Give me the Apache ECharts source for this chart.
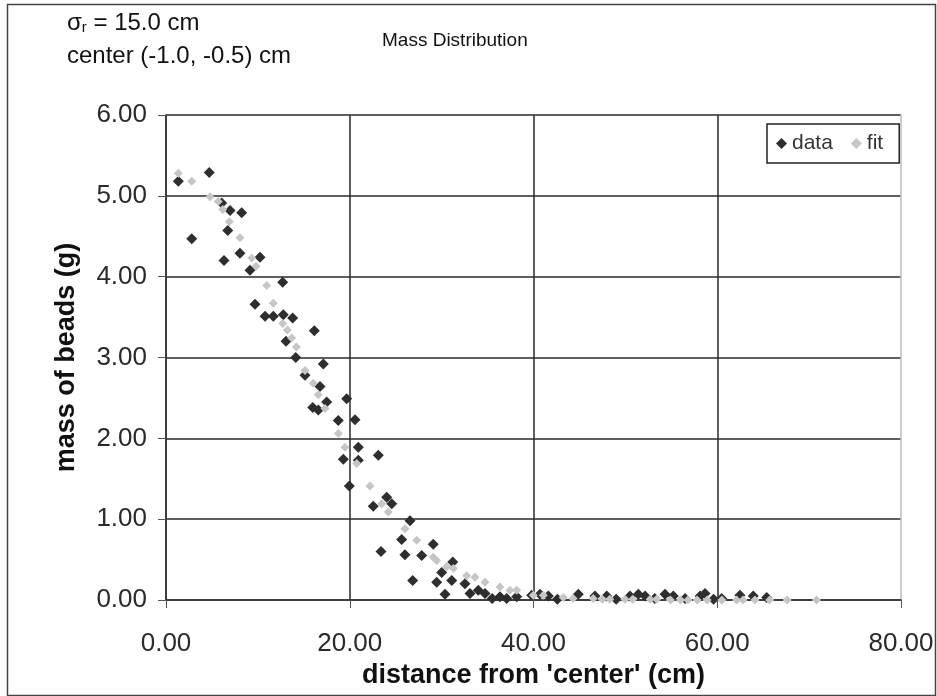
<!DOCTYPE html>
<html>
<head>
<meta charset="utf-8">
<script src="https://cdn.jsdelivr.net/npm/echarts@6/dist/echarts.min.js"></script>
<style>
html,body{margin:0;padding:0;background:#fff;}
#chart{width:937px;height:696px;}
</style>
</head>
<body>
<div id="chart"></div>
<script>
// ---- data ----
const seriesNames = ['data', 'fit'];
const titleText = 'Mass Distribution';
const xAxisName = "distance from 'center' (cm)";
const yAxisName = 'mass of beads (g)';

const dataX = [1.34,2.80,4.71,6.06,6.97,8.24,6.72,8.05,6.31,10.23,9.14,12.70,9.69,10.78,11.68,12.77,13.79,16.14,13.06,14.12,
  17.12,15.13,16.76,19.67,17.49,15.97,16.58,18.75,20.57,20.93,23.11,19.30,20.93,19.95,24.02,24.57,22.56,26.56,25.65,29.09,
  23.40,26.01,27.83,31.21,30.01,26.85,29.46,31.10,32.54,30.37,33.09,33.99,34.72,36.35,37.08,38.17,39.80,40.71,41.61,44.88,
  46.69,47.97,50.50,51.41,52.14,54.31,55.22,58.14,58.67,60.48,62.47,63.92,65.38,42.6,49.0,53.2,56.5,59.6,35.5];
const dataY = [5.18,4.47,5.29,4.91,4.82,4.79,4.57,4.29,4.20,4.24,4.08,3.93,3.66,3.51,3.51,3.53,3.49,3.33,3.20,3.00,
  2.92,2.78,2.64,2.49,2.45,2.38,2.35,2.22,2.23,1.89,1.79,1.74,1.73,1.41,1.27,1.19,1.16,0.98,0.75,0.69,
  0.60,0.56,0.55,0.47,0.34,0.24,0.22,0.24,0.20,0.07,0.08,0.12,0.08,0.04,0.02,0.04,0.06,0.07,0.05,0.07,
  0.05,0.05,0.05,0.07,0.05,0.07,0.05,0.05,0.08,0.02,0.06,0.05,0.03,0.01,0.01,0.02,0.02,0.01,0.02];

const fitX = [1.34,2.80,4.79,5.69,6.17,6.89,8.05,9.33,9.80,10.96,11.68,12.70,13.20,13.68,14.20,15.13,16.03,16.58,17.31,18.76,
  19.48,20.76,22.20,23.48,24.20,26.01,27.29,29.09,29.46,30.55,31.27,32.73,33.63,34.72,36.35,37.44,38.17,39.98,41.07,43.24,
  44.3,46.5,47.5,48.3,49.96,50.8,52.7,53.4,54.9,56.0,56.8,57.8,58.9,60.5,62.1,62.8,64.1,65.7,67.6,70.8];
const fitY = [5.28,5.18,4.99,4.93,4.83,4.68,4.48,4.23,4.13,3.89,3.67,3.42,3.34,3.24,3.13,2.84,2.68,2.54,2.37,2.06,
  1.89,1.69,1.41,1.19,1.09,0.88,0.74,0.53,0.49,0.41,0.39,0.30,0.28,0.22,0.16,0.12,0.12,0.06,0.06,0.03,
  0.02,0.02,0.01,0.01,0.01,0.01,0.01,0.01,0.00,0.00,0.00,0.00,0.00,0.00,0.00,0.00,0.00,0.00,0.00,0.00];

const xTicks = [0, 20, 40, 60, 80];
const yTicks = [0, 1, 2, 3, 4, 5, 6];

const dataPts = dataX.map((x, i) => [x, dataY[i]]);
const fitPts = fitX.map((x, i) => [x, fitY[i]]);

const chart = echarts.init(document.getElementById('chart'), null, {renderer: 'canvas'});
const FONT = 'Arial, "Liberation Sans", Helvetica, sans-serif';

chart.setOption({
  backgroundColor: '#ffffff',
  animation: false,
  textStyle: {fontFamily: FONT},
  grid: {left: 166, right: 36, top: 115, bottom: 96, containLabel: false},
  legend: {
    data: [
      {name: seriesNames[0], itemStyle: {color: '#2e2e2e'}},
      {name: seriesNames[1], itemStyle: {color: '#c6c6c6'}}
    ],
    left: 767, top: 124,
    orient: 'horizontal',
    itemWidth: 11, itemHeight: 11, itemGap: 18,
    padding: [9, 16, 9, 9],
    backgroundColor: '#ffffff',
    borderColor: '#222',
    borderWidth: 1.5,
    textStyle: {fontFamily: FONT, fontSize: 21, color: '#333'}
  },
  xAxis: {
    type: 'value',
    min: xTicks[0], max: xTicks[xTicks.length - 1], interval: 20,
    name: xAxisName, nameLocation: 'middle', nameGap: 58,
    nameTextStyle: {fontFamily: FONT, fontSize: 27, fontWeight: 'bold', color: '#111'},
    axisLine: {show: true, lineStyle: {color: '#333', width: 1.5}},
    axisTick: {show: true, inside: false, length: 8, lineStyle: {color: '#555'}},
    axisLabel: {margin: 31, fontSize: 26, color: '#2a2a2a', fontFamily: FONT,
      formatter: v => v.toFixed(2)},
    splitLine: {show: true, showMaxLine: false, lineStyle: {color: '#2a2a2a', width: 1.5}}
  },
  yAxis: [{
    type: 'value',
    min: yTicks[0], max: yTicks[yTicks.length - 1], interval: 1,
    name: yAxisName, nameLocation: 'middle', nameGap: 86, nameRotate: 90,
    nameTextStyle: {fontFamily: FONT, fontSize: 27, fontWeight: 'bold', color: '#111'},
    axisLine: {show: true, lineStyle: {color: '#333', width: 1.5}},
    axisTick: {show: true, inside: false, length: 8, lineStyle: {color: '#555'}},
    axisLabel: {margin: 19, fontSize: 26, color: '#2a2a2a', fontFamily: FONT,
      formatter: v => v.toFixed(2)},
    splitLine: {show: true, lineStyle: {color: '#2a2a2a', width: 1.5}}
  }, {
    type: 'value', position: 'right',
    min: yTicks[0], max: yTicks[yTicks.length - 1], interval: 1,
    axisLine: {show: true, onZero: false, lineStyle: {color: '#bbbbbb', width: 1.5}},
    axisTick: {show: false}, axisLabel: {show: false}, splitLine: {show: false}
  }],
  series: [
    {
      name: seriesNames[0], type: 'scatter', symbol: 'diamond', symbolSize: 11,
      itemStyle: {color: '#2e2e2e', opacity: 1},
      data: dataPts, z: 3
    },
    {
      name: seriesNames[1], type: 'scatter', symbol: 'diamond', symbolSize: 9,
      itemStyle: {color: '#c6c6c6', opacity: 1},
      data: fitPts, z: 4
    }
  ],
  graphic: [
    {type: 'rect', left: 5, top: 2, silent: true, z: -10,
      shape: {x: 0, y: 0, width: 928, height: 691},
      style: {fill: 'none', stroke: '#444', lineWidth: 1.5}},
    {type: 'text', left: 67, top: 11,
      style: {text: '{s|σ}{r|r}{s| = 15.0 cm}', font: '24px ' + FONT, fill: '#111',
        rich: {s: {fontSize: 24, fontFamily: FONT, fill: '#111', verticalAlign: 'bottom'},
               r: {fontSize: 15, fontFamily: FONT, fill: '#111', padding: [9, 0, 0, 0], verticalAlign: 'bottom'}}}},
    {type: 'text', left: 67, top: 44,
      style: {text: 'center (-1.0, -0.5) cm', font: '24px ' + FONT, fill: '#111'}},
    {type: 'text', left: 382, top: 31,
      style: {text: titleText, font: '19px ' + FONT, fill: '#111'}}
  ]
});
</script>
</body>
</html>
